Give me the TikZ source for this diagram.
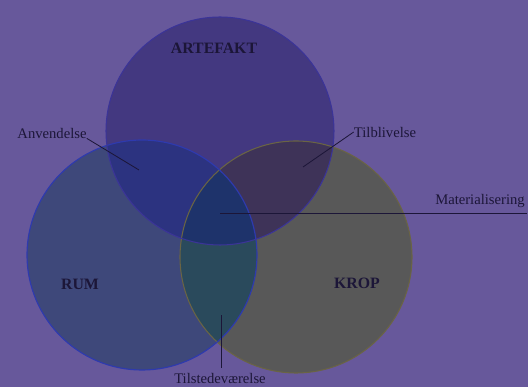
\documentclass[tikz,border=0pt]{standalone}
\usepackage{fontspec}
\setmainfont{Liberation Serif}
\usepackage{tkz-euclide}

\definecolor{bg}{HTML}{67589B}
\definecolor{artC}{HTML}{433880}
\definecolor{rumC}{HTML}{3E487A}
\definecolor{kropC}{HTML}{585858}
\definecolor{arC}{HTML}{2C3380}
\definecolor{akC}{HTML}{3E3358}
\definecolor{rkC}{HTML}{2A4A5C}
\definecolor{midC}{HTML}{1E336B}
\definecolor{artL}{HTML}{3B3498}
\definecolor{rumL}{HTML}{2E3AAE}
\definecolor{kropL}{HTML}{6A6444}
\definecolor{txt}{HTML}{1C1638}

\tikzset{
  lbl/.style={font=\fontsize{12.5}{14}\selectfont, text=txt, inner sep=0pt},
  caps/.style={font=\fontsize{13.5}{15}\selectfont\bfseries, text=txt, inner sep=0pt},
  pointer/.style={draw=txt, line width=0.7pt}
}

\begin{document}
\begin{tikzpicture}

% Background
\fill[bg] (0,0) rectangle (15.84,11.61);
\useasboundingbox (0,0) rectangle (15.84,11.61);

% Centers A (artefakt), R (rum), K (krop)
\tkzDefPoint(6.60,7.68){A}
\tkzDefPoint(4.26,3.96){R}
\tkzDefPoint(8.88,3.90){K}

% Circles
\fill[kropC] (K) circle (3.48);
\fill[rumC] (R) circle (3.45);
\fill[artC] (A) circle (3.42);

% Overlaps
\begin{scope}
  \clip (A) circle (3.42);
  \fill[arC] (R) circle (3.45);
  \fill[akC] (K) circle (3.48);
\end{scope}
\begin{scope}
  \clip (R) circle (3.45);
  \fill[rkC] (K) circle (3.48);
\end{scope}
\begin{scope}
  \clip (A) circle (3.42);
  \clip (R) circle (3.45);
  \fill[midC] (K) circle (3.48);
\end{scope}

% Outlines
\draw[kropL, line width=0.9pt] (K) circle (3.48);
\draw[rumL, line width=1pt] (R) circle (3.45);
\draw[artL, line width=0.9pt] (A) circle (3.42);

% Circle names
\node[caps] (art) at (6.42,10.17) {ARTEFAKT};
\node[caps] (rum) at (2.40,3.09) {RUM};
\node[caps] (krop) at (10.71,3.12) {KROP};

% Labels
\node[lbl] (anv) at (1.56,7.62) {Anvendelse};
\node[lbl] (til) at (11.55,7.65) {Tilblivelse};
\node[lbl] (mat) at (14.40,5.58) {Materialisering};
\node[lbl] (tst) at (6.60,0.26) {Tilstedeværelse};

% Pointer ends
\tkzDefPoint(4.17,6.51){a}
\tkzDefPoint(9.09,6.60){b}
\tkzDefPoint(6.60,5.22){c}
\tkzDefPoint(15.81,5.22){c'}
\tkzDefPoint(6.63,2.16){d}
\tkzDefPoint(6.63,0.57){d'}

% Pointers
\draw[pointer] (anv.south east) -- (a);
\draw[pointer] (til.west) -- (b);
\draw[pointer] (c) -- (c');
\draw[pointer] (d') -- (d);

\end{tikzpicture}
\end{document}
